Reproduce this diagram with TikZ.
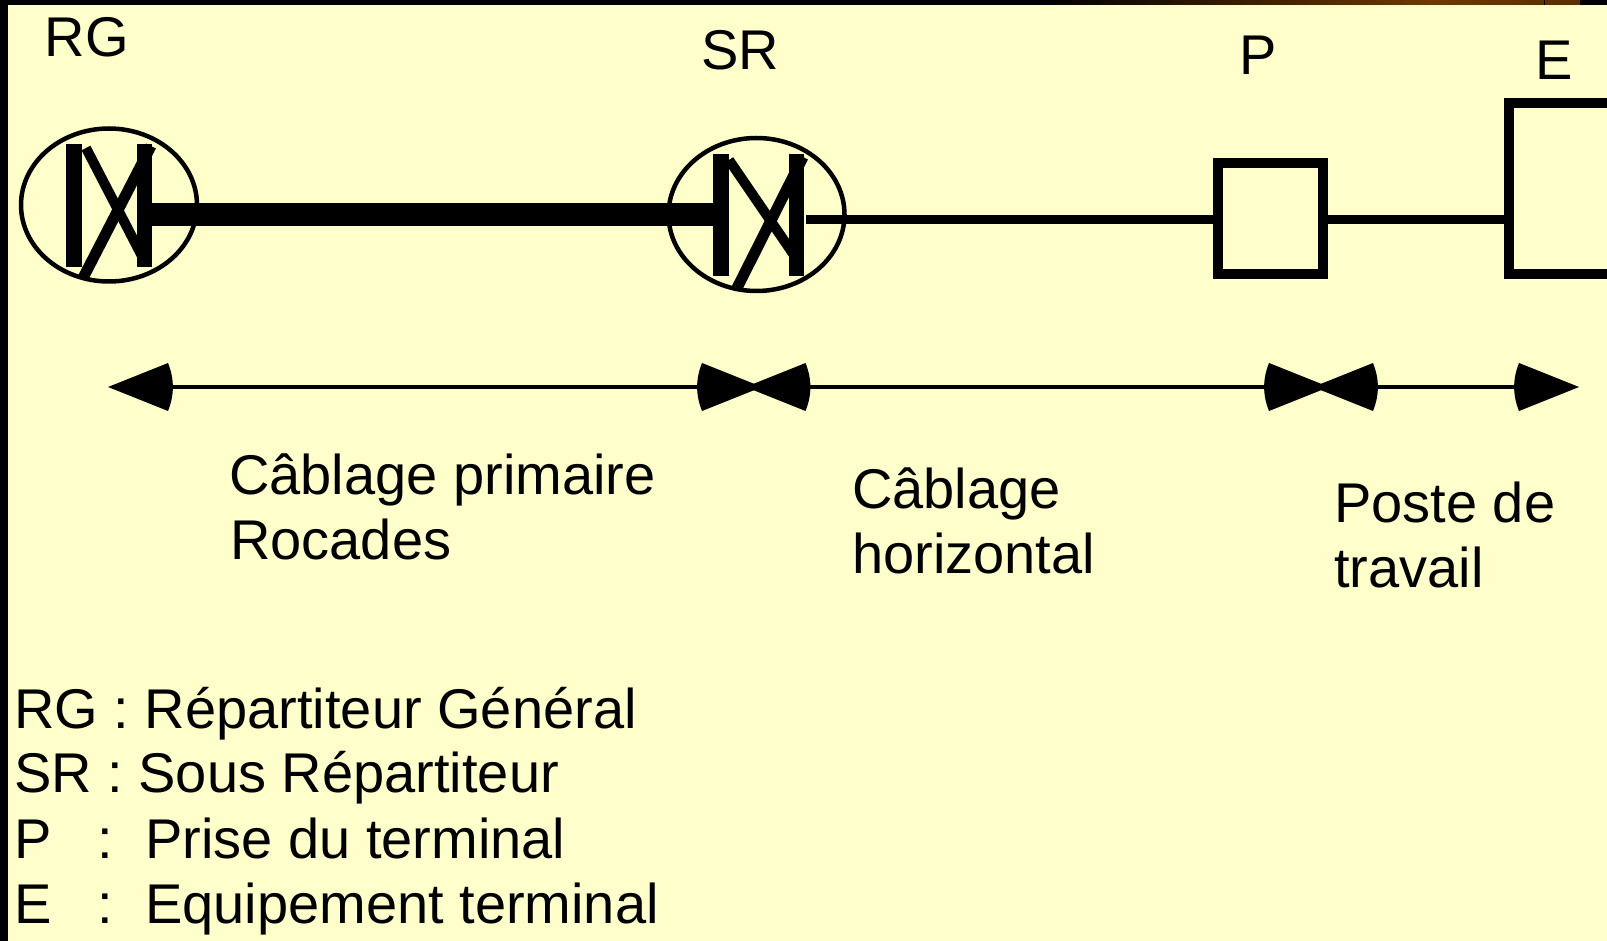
\documentclass[tikz,border=0pt]{standalone}
\usepackage{fontspec}
\setmainfont{Liberation Sans}
\definecolor{paper}{HTML}{FFFFCC}
\definecolor{bandbrown}{HTML}{6E3800}
\definecolor{bandbrownb}{HTML}{5A2E00}
\tikzset{
  x=1pt,y=-1pt,
  lbl/.style={inner sep=0pt,anchor=base west,font=\fontsize{56}{65}\selectfont},
  ring/.style={draw=black,line width=4.5pt,fill=paper,ellipse,minimum width=176pt,minimum height=153pt,inner sep=0pt},
  termbox/.style={draw=black,line width=10pt},
  thickline/.style={line width=23.5pt},
  thinline/.style={line width=9pt},
  dimline/.style={line width=4.5pt},
  head/.style={fill=black,draw=none},
  diagA/.style={line width=10pt},
  diagB/.style={line width=11pt}
}
\usetikzlibrary{shapes.geometric,calc}
% tip x, tip y, direction sign (+1: points right)
\newcommand{\dimhead}[3]{%
  \fill[head] (#1,#2) -- (#1-#3*60,#2-24) .. controls (#1-#3*66.5,#2-8) and (#1-#3*66.5,#2+8) .. (#1-#3*60,#2+24) -- cycle;}
\begin{document}
\begin{tikzpicture}
\useasboundingbox (0,0) rectangle (1607,941);
\fill[paper] (0,0) rectangle (1607,941);
\fill[black] (0,0) rectangle (1607,5);
\shade[left color=black,right color=bandbrown] (1040,0) rectangle (1430,5);
\shade[left color=bandbrown,right color=bandbrownb] (1430,0) rectangle (1580,5);
\fill[black] (1544,0) rectangle (1545,5);
\fill[black] (0,0) rectangle (8,941);

% Distributors
\node[ring] (rg) at (109,205) {};
\node[ring] (sr) at (756.5,214.5) {};
\coordinate (rgbarTL) at (66,144); \coordinate (rgbarBR) at (82,267);
\coordinate (rgbbTL) at (137,144); \coordinate (rgbbBR) at (152,267);
\fill (rgbarTL) rectangle (rgbarBR);
\fill (rgbbTL) rectangle (rgbbBR);
\draw[diagA] (86,148) -- (143,258);
\draw[diagB] (151,146) -- (83,278);
\coordinate (srbarTL) at (713,154); \coordinate (srbarBR) at (729,276);
\coordinate (srbbTL) at (789,154); \coordinate (srbbBR) at (804,276);
\fill (srbarTL) rectangle (srbarBR);
\fill (srbbTL) rectangle (srbbBR);
\draw[diagA] (729,160) -- (796,258);
\draw[diagB] (803,157) -- (737,288);

% Boxes
\coordinate (pTL) at (1218,163.5); \coordinate (pBR) at (1323,274.5);
\draw[termbox] (pTL) rectangle (pBR);
\coordinate (eTL) at (1509,103); \coordinate (eBR) at (1620,274.5);
\draw[termbox] (eTL) rectangle (eBR);

% Cables
\coordinate (thickL) at (152,214.5); \coordinate (thickR) at (713,214.5);
\draw[thickline] (thickL) -- (thickR);
\coordinate (thinA) at (806,219.5); \coordinate (thinB) at (1213,219.5);
\coordinate (thinC) at (1328,219.5); \coordinate (thinD) at (1504,219.5);
\draw[thinline] (thinA) -- (thinB);
\draw[thinline] (thinC) -- (thinD);

% Dimension arrows
\coordinate (d1) at (170,387); \coordinate (d2) at (700,387);
\coordinate (d3) at (808,387); \coordinate (d4) at (1266,387);
\coordinate (d5) at (1375,387); \coordinate (d6) at (1518,387);
\draw[dimline] (d1) -- (d2);
\draw[dimline] (d3) -- (d4);
\draw[dimline] (d5) -- (d6);
\dimhead{108}{387}{-1}
\dimhead{762}{387}{1}
\dimhead{745.5}{387}{-1}
\dimhead{1329}{387}{1}
\dimhead{1313}{387}{-1}
\dimhead{1579}{387}{1}

% Labels
\node[lbl] (tRG) at (44.5,56.5) {RG};
\node[lbl] (tSR) at (701,70) {SR};
\node[lbl] (tP) at (1239,75) {P};
\node[lbl] (tE) at (1535,79.5) {E};
\node[lbl] (c1a) at (229,494.5) {Câblage primaire};
\node[lbl] (c1b) at (230,559.5) {Rocades};
\node[lbl] (c2a) at (852,508.5) {Câblage};
\node[lbl] (c2b) at (852,573.5) {horizontal};
\node[lbl] (c3a) at (1334,522.5) {Poste de};
\node[lbl] (c3b) at (1334,587.5) {travail};
\node[lbl] (l1) at (14,728) {RG : Répartiteur Général};
\node[lbl] (l2) at (14,792.5) {SR : Sous Répartiteur};
\node[lbl] (l3) at (14,858) {P};
\node[lbl] (l3b) at (97,858) {:};
\node[lbl] (l3c) at (145,858) {Prise du terminal};
\node[lbl] (l4) at (14,923) {E};
\node[lbl] (l4b) at (97,923) {:};
\node[lbl] (l4c) at (145,923) {Equipement terminal};
\end{tikzpicture}
\end{document}
